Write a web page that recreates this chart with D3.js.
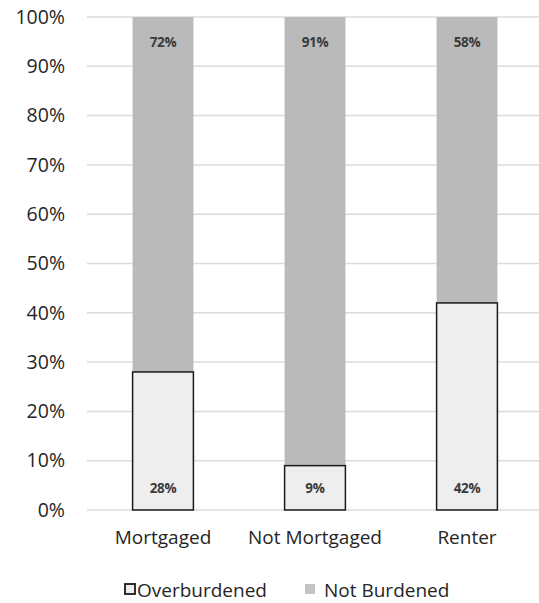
<!DOCTYPE html>
<html><head><meta charset="utf-8">
<script src="https://cdn.jsdelivr.net/npm/d3@7"></script>
<style>body{margin:0;background:#fff;} svg{display:block;font-family:"Open Sans",sans-serif;}</style>
</head><body>
<svg id="c" width="539" height="603"></svg>
<script>
const categories = ["Mortgaged", "Not Mortgaged", "Renter"];
const overburdened = [28, 9, 42];
const notBurdened = [72, 91, 58];
const yTicks = [0, 10, 20, 30, 40, 50, 60, 70, 80, 90, 100];
const seriesNames = ["Overburdened", "Not Burdened"];

const svg = d3.select("#c");
const x = d3.scaleBand().domain(categories).range([87, 543]).paddingInner(0.6).paddingOuter(0.3);
const y = d3.scaleLinear().domain([0, 100]).range([510, 17]);

// gridlines
svg.append("g").selectAll("line").data(yTicks).join("line")
  .attr("x1", 87).attr("x2", 539)
  .attr("y1", d => y(d)).attr("y2", d => y(d))
  .attr("stroke", "#dcdcdc").attr("stroke-width", 1.5);

// y axis labels
const yAxis = d3.axisLeft(y).tickValues(yTicks).tickFormat(d => d + "%").tickSize(0).tickPadding(0);
const ya = svg.append("g").attr("transform", "translate(65,0)").call(yAxis);
ya.select(".domain").remove();
ya.selectAll("text").attr("font-size", 19.5).attr("fill", "#262626").attr("font-family", "Open Sans, sans-serif");

const rows = categories.map((c, i) => ({c, o: overburdened[i], n: notBurdened[i]}));

// Not burdened (top)
svg.append("g").selectAll("rect").data(rows).join("rect")
  .attr("x", d => x(d.c)).attr("width", x.bandwidth())
  .attr("y", d => y(d.o + d.n)).attr("height", d => y(d.o) - y(d.o + d.n))
  .attr("fill", "#bababa");
// Overburdened (bottom)
svg.append("g").selectAll("rect").data(rows).join("rect")
  .attr("x", d => x(d.c)).attr("width", x.bandwidth())
  .attr("y", d => y(d.o)).attr("height", d => y(0) - y(d.o))
  .attr("fill", "#eeeeee").attr("stroke", "#1a1a1a").attr("stroke-width", 1.5);

// labels
svg.append("g").selectAll("text").data(rows).join("text")
  .attr("x", d => x(d.c) + x.bandwidth() / 2).attr("y", d => y(d.o + d.n) + 30)
  .attr("text-anchor", "middle").attr("font-size", 13.5).attr("font-weight", "bold").attr("fill", "#3a3a3a")
  .attr("letter-spacing", "-0.3")
  .text(d => d.n + "%");
svg.append("g").selectAll("text").data(rows).join("text")
  .attr("x", d => x(d.c) + x.bandwidth() / 2).attr("y", d => y(0) - 17)
  .attr("text-anchor", "middle").attr("font-size", 13.5).attr("font-weight", "bold").attr("fill", "#3a3a3a")
  .attr("letter-spacing", "-0.3")
  .text(d => d.o + "%");

// x axis labels
const xAxis = d3.axisBottom(x).tickSize(0).tickPadding(0);
const xa = svg.append("g").attr("transform", "translate(0,530)").call(xAxis);
xa.select(".domain").remove();
xa.selectAll("text").attr("font-size", 19).attr("fill", "#262626").attr("dy", "0.71em").attr("font-family", "Open Sans, sans-serif");

// legend
const leg = svg.append("g");
const legItems = [
  {name: seriesNames[0], x: 125, tx: 137, fill: "#eeeeee", stroke: "#1a1a1a"},
  {name: seriesNames[1], x: 305, tx: 324, fill: "#c4c4c4", stroke: "none"}
];
legItems.forEach(it => {
  leg.append("rect").attr("x", it.x).attr("y", 584).attr("width", 10).attr("height", 10)
    .attr("fill", it.fill).attr("stroke", it.stroke).attr("stroke-width", 1.8);
  leg.append("text").attr("x", it.tx).attr("y", 597)
    .attr("font-size", 19).attr("fill", "#262626").text(it.name);
});
</script>
</body></html>
